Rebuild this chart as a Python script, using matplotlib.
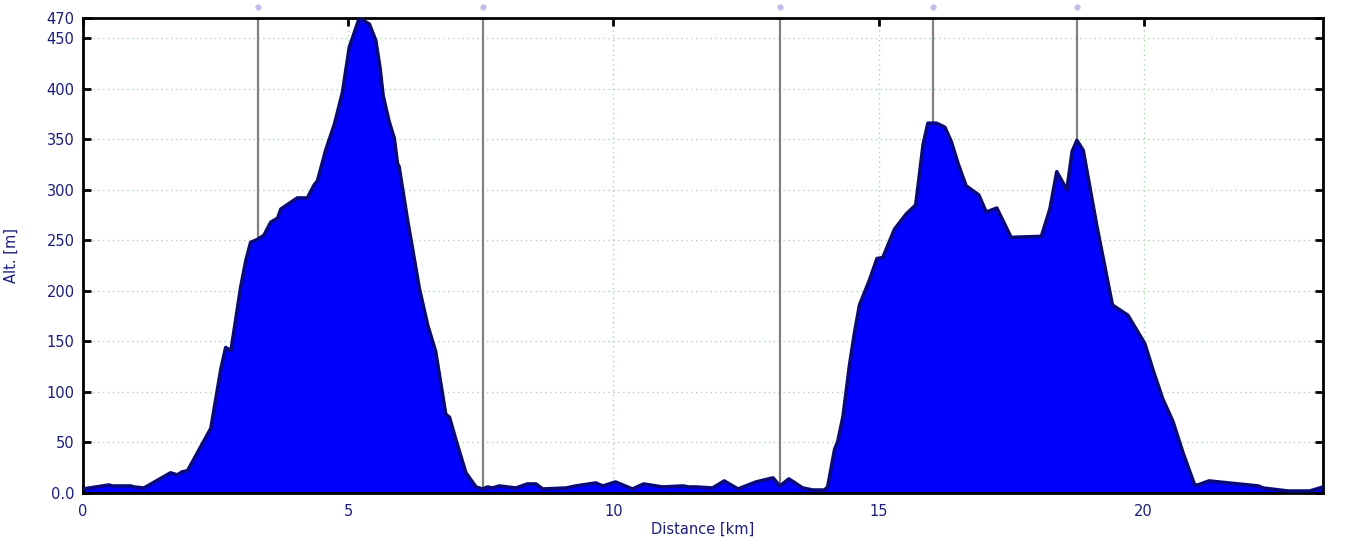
import matplotlib
matplotlib.use("Agg")
import matplotlib.pyplot as plt

#==========================================================================================
#     Altitude profile along the route
#==========================================================================================

dist_km = [0.00, 0.49, 0.55, 0.90, 0.96, 1.15, 1.65, 1.78, 1.87, 1.97, 2.41, 2.60, 2.69, 2.79,
           2.97, 3.07, 3.16, 3.29, 3.41, 3.54, 3.67, 3.73, 4.04, 4.23, 4.36, 4.42, 4.58, 4.74,
           4.89, 5.02, 5.21, 5.40, 5.52, 5.60, 5.66, 5.77, 5.87, 5.93, 5.96, 6.12, 6.21, 6.34,
           6.50, 6.65, 6.84, 6.91, 7.03, 7.22, 7.41, 7.53, 7.63, 7.72, 7.85, 8.16, 8.38, 8.54,
           8.67, 9.11, 9.29, 9.67, 9.80, 10.04, 10.36, 10.57, 10.93, 11.31, 11.43, 11.56, 11.87,
           12.09, 12.35, 12.69, 13.01, 13.14, 13.31, 13.57, 13.76, 13.98, 14.04, 14.17, 14.23,
           14.33, 14.45, 14.55, 14.64, 14.83, 14.97, 15.08, 15.30, 15.52, 15.70, 15.84, 15.93,
           16.09, 16.25, 16.37, 16.50, 16.65, 16.89, 17.03, 17.23, 17.50, 18.07, 18.23, 18.36,
           18.55, 18.65, 18.74, 18.86, 19.11, 19.41, 19.70, 20.02, 20.18, 20.36, 20.55, 20.74,
           20.96, 21.02, 21.23, 22.16, 22.25, 22.72, 23.13, 23.38]
alt_m = [4, 8, 7, 7, 6, 5, 20, 18, 21, 22, 64, 123, 144, 141,
         203, 230, 248, 251, 255, 268, 272, 281, 292, 292, 305, 309, 340, 365,
         396, 441, 470, 464, 448, 421, 393, 368, 351, 326, 323, 270, 243, 203,
         166, 140, 78, 75, 53, 20, 6, 4, 6, 5, 7, 5, 9, 9,
         4, 5, 7, 10, 7, 11, 4, 9, 6, 7, 6, 6, 5,
         12, 4, 11, 15, 7, 14, 5, 3, 3, 6, 43, 51,
         76, 126, 160, 186, 211, 232, 233, 261, 276, 285, 345, 366,
         366, 362, 348, 326, 304, 295, 278, 282, 253, 254, 281, 318,
         300, 338, 349, 339, 266, 186, 176, 148, 121, 93, 71, 40,
         8, 8, 12, 7, 5, 2, 2, 6]

# waypoint markers (km)
waypoints = [3.30, 7.55, 13.15, 16.02, 18.75]

y_ticks = [0, 50, 100, 150, 200, 250, 300, 350, 400, 450, 470]
y_labels = ['0.0', '50', '100', '150', '200', '250', '300', '350', '400', '450', '470']
x_ticks = [0, 5, 10, 15, 20]

text_col = '#1c1c7a'

fig = plt.figure(figsize=(13.61, 5.51), dpi=100)
ax = fig.add_axes([83/1361, 1 - 493/551, (1323 - 83)/1361, (493 - 18)/551])

ax.set_xlim(0, 23.38)
ax.set_ylim(0, 470)

ax.grid(True, color='#a8d8a8', linestyle=(0, (1, 2.5)), linewidth=1.0, zorder=0)
ax.set_axisbelow(True)

for w in waypoints:
    ax.axvline(w, color='#808080', linewidth=1.6, zorder=1)
    ax.plot([w], [481], marker='o', markersize=3.5, color='#c0c0e6', clip_on=False, zorder=5)

ax.fill_between(dist_km, alt_m, 0, color='#0000ff', zorder=2)
ax.plot(dist_km, alt_m, color='#0a0a78', linewidth=2.5, zorder=3)

ax.set_yticks(y_ticks)
ax.set_yticklabels(y_labels)
ax.set_xticks(x_ticks)

ax.tick_params(direction='in', length=6, width=2, colors='black', top=True, right=True,
               labelsize=10.5, labelcolor=text_col)
ax.tick_params(axis='x', pad=8)
ax.tick_params(axis='y', pad=6)

for s in ax.spines.values():
    s.set_linewidth(2)
    s.set_color('black')

ax.set_xlabel('Distance [km]', color=text_col, fontsize=10.5, labelpad=2)
ax.set_ylabel('Alt. [m]', color=text_col, fontsize=10.5, labelpad=20)

fig.savefig('out.png', dpi=100)
